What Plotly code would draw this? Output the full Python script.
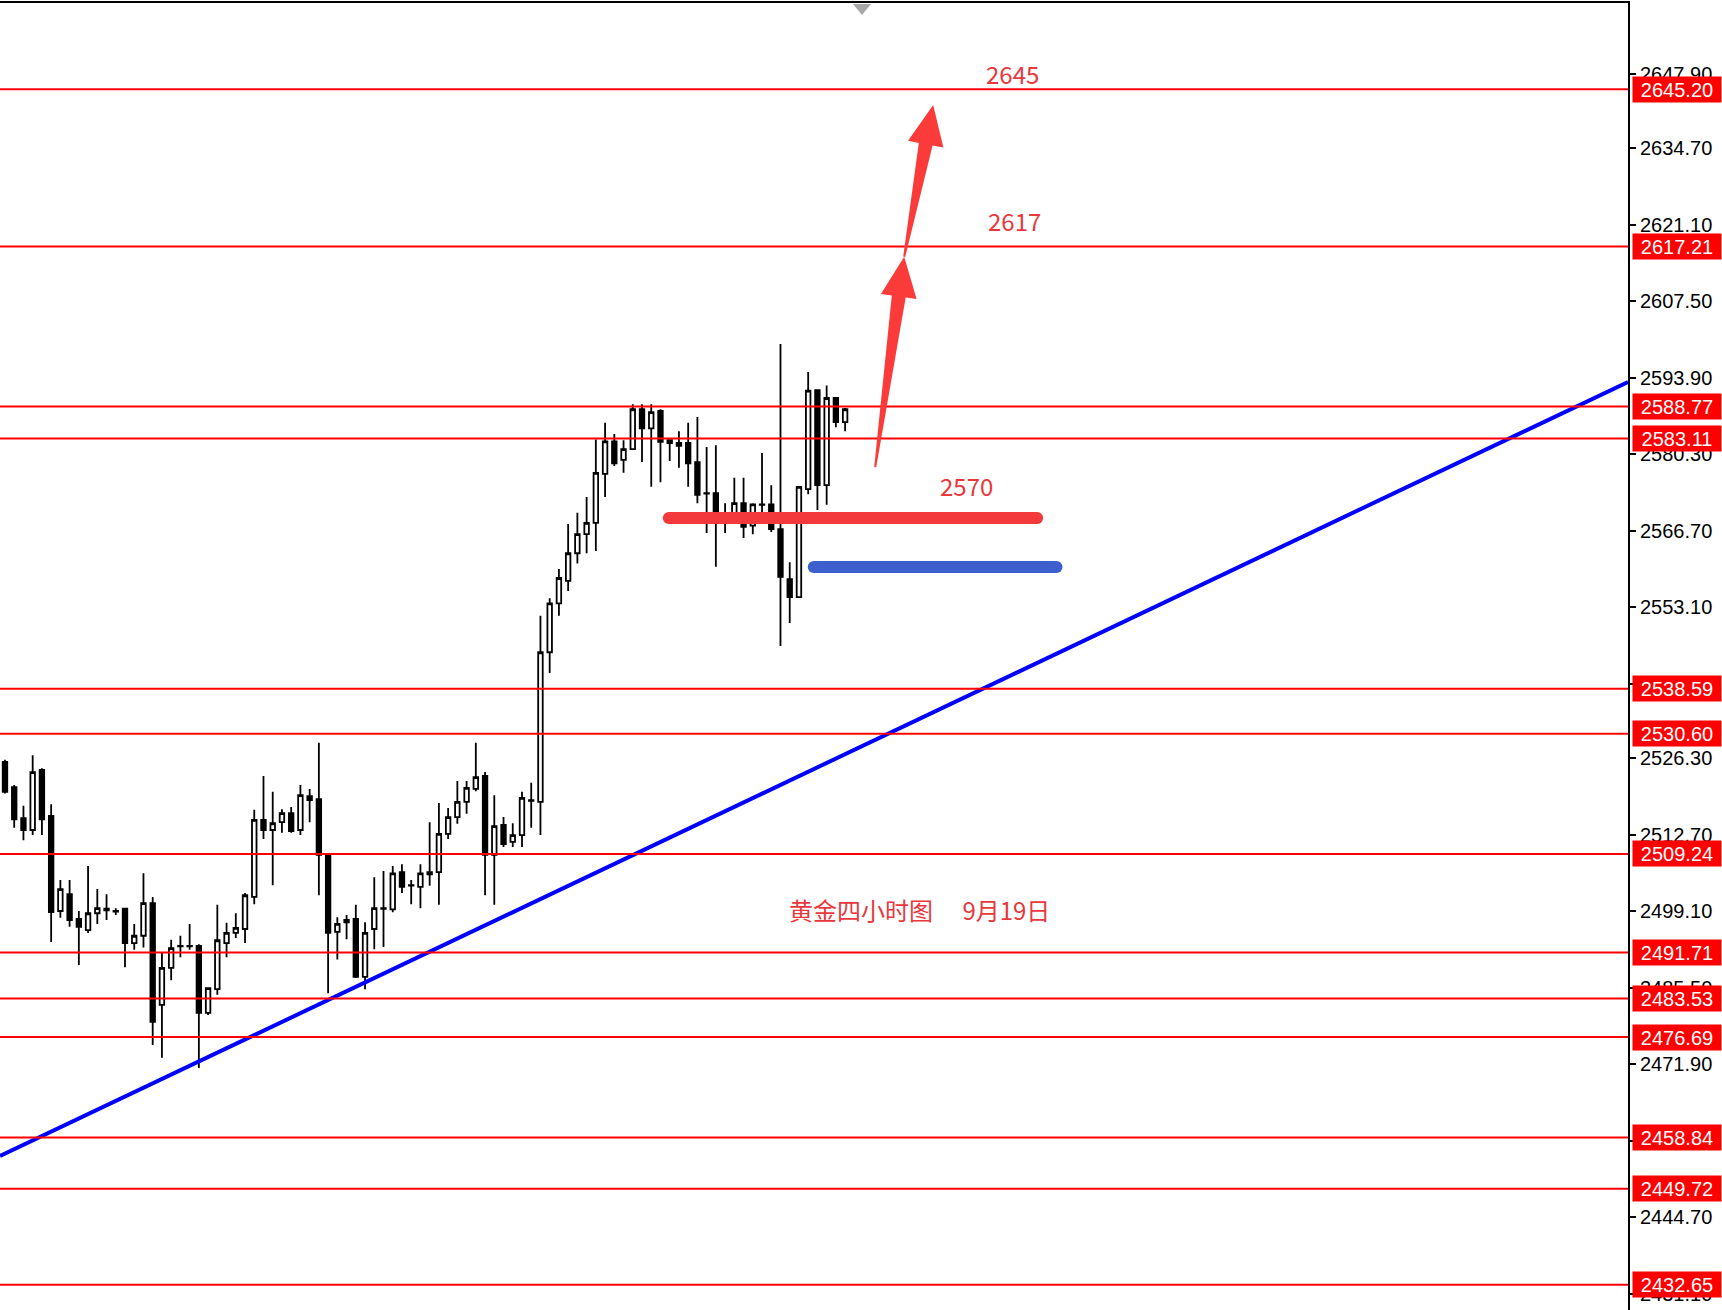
import math
import plotly.graph_objects as go

# ---------------- data ----------------
opens = [2525.6, 2521.1, 2515.6, 2513.5, 2524.2, 2516.0, 2499.1, 2502.1, 2497.7, 2495.7,
         2498.7, 2499.5, 2499.1, 2499.5, 2493.4, 2494.7, 2500.5, 2482.4, 2489.0, 2492.9,
         2492.9, 2492.9, 2481.0, 2485.2, 2493.4, 2495.2, 2495.9, 2501.6, 2515.3, 2513.5,
         2514.9, 2516.5, 2513.5, 2519.5, 2519.0, 2509.1, 2495.4, 2497.1, 2497.7, 2487.4,
         2495.9, 2499.6, 2499.4, 2506.0, 2503.7, 2503.4, 2506.0, 2506.0, 2512.8, 2515.8,
         2518.5, 2520.8, 2523.1, 2509.1, 2514.4, 2511.4, 2512.6, 2518.8, 2518.5, 2545.1,
         2553.8, 2557.8, 2562.7, 2566.1, 2568.1, 2576.8, 2582.6, 2579.3, 2581.2, 2588.3,
         2584.9, 2588.0, 2582.8, 2582.3, 2582.3, 2578.9, 2573.4, 2573.4, 2569.8, 2569.8,
         2571.6, 2567.6, 2571.4, 2571.4, 2567.0, 2558.1, 2554.9, 2574.1, 2591.7, 2574.8,
         2590.3, 2586.0]
highs = [2526.0, 2521.5, 2517.8, 2526.8, 2524.5, 2518.1, 2504.6, 2504.6, 2499.1, 2507.1,
         2503.0, 2502.1, 2499.6, 2499.6, 2496.8, 2505.8, 2501.6, 2491.8, 2494.0, 2494.7,
         2496.8, 2493.2, 2485.5, 2500.2, 2497.0, 2498.7, 2502.3, 2517.1, 2523.1, 2520.3,
         2517.2, 2517.6, 2521.5, 2520.8, 2529.0, 2509.1, 2498.0, 2498.4, 2500.2, 2497.1,
         2505.1, 2506.2, 2507.1, 2507.4, 2504.6, 2507.4, 2514.9, 2518.3, 2517.4, 2522.2,
         2522.2, 2529.0, 2523.8, 2519.7, 2515.8, 2514.7, 2520.3, 2521.9, 2551.6, 2554.7,
         2559.9, 2567.9, 2569.9, 2572.7, 2582.9, 2585.9, 2583.9, 2582.8, 2589.2, 2589.2,
         2589.2, 2588.3, 2582.8, 2584.4, 2585.9, 2586.9, 2581.6, 2581.9, 2571.6, 2576.1,
         2576.1, 2571.6, 2580.5, 2574.8, 2599.9, 2561.1, 2574.6, 2594.9, 2591.8, 2592.5,
         2590.3, 2588.5]
lows = [2520.0, 2513.9, 2511.7, 2512.6, 2512.6, 2493.6, 2497.9, 2496.3, 2489.5, 2495.2,
        2496.8, 2497.5, 2498.4, 2489.1, 2492.2, 2492.6, 2475.3, 2473.0, 2486.8, 2490.9,
        2492.2, 2471.2, 2480.6, 2484.2, 2490.9, 2494.3, 2493.4, 2500.3, 2511.9, 2503.7,
        2513.0, 2513.0, 2512.6, 2514.9, 2501.9, 2484.5, 2490.5, 2494.1, 2487.2, 2485.2,
        2492.3, 2492.7, 2498.9, 2502.3, 2500.3, 2499.6, 2503.6, 2500.2, 2511.9, 2514.6,
        2516.4, 2520.4, 2501.9, 2500.2, 2510.5, 2510.5, 2510.5, 2513.9, 2512.6, 2541.4,
        2551.6, 2556.0, 2560.9, 2562.7, 2563.1, 2572.7, 2578.2, 2577.0, 2581.1, 2578.9,
        2574.5, 2575.3, 2579.1, 2577.9, 2574.5, 2571.6, 2566.3, 2560.3, 2566.3, 2568.3,
        2565.4, 2566.1, 2569.1, 2566.5, 2546.2, 2550.3, 2554.8, 2573.2, 2570.4, 2571.3,
        2585.1, 2584.4]
closes = [2520.3, 2515.4, 2513.5, 2523.8, 2515.4, 2498.9, 2503.0, 2497.5, 2496.3, 2498.7,
          2499.6, 2499.2, 2499.0, 2493.4, 2494.7, 2500.5, 2479.4, 2489.0, 2492.5, 2492.8,
          2492.8, 2481.0, 2485.4, 2493.9, 2495.2, 2496.1, 2501.9, 2515.3, 2513.5, 2514.7,
          2516.5, 2513.3, 2519.7, 2518.8, 2509.1, 2495.2, 2496.8, 2497.5, 2487.4, 2495.2,
          2499.6, 2499.5, 2505.8, 2503.4, 2503.6, 2505.8, 2505.6, 2512.8, 2515.8, 2518.5,
          2521.0, 2522.9, 2509.1, 2514.2, 2511.0, 2512.6, 2519.2, 2518.7, 2545.1, 2553.8,
          2558.3, 2562.7, 2566.1, 2568.1, 2577.0, 2582.6, 2578.7, 2581.2, 2588.3, 2584.9,
          2587.8, 2582.5, 2582.3, 2581.8, 2578.7, 2573.1, 2573.3, 2569.9, 2569.3, 2571.6,
          2567.4, 2571.4, 2571.3, 2567.0, 2558.5, 2554.9, 2574.5, 2591.6, 2574.8, 2590.3,
          2586.0, 2588.3]
bar_index = list(range(len(opens)))

level_prices = [2645.20, 2617.21, 2588.77, 2583.11, 2538.59, 2530.60, 2509.24,
                2491.71, 2483.53, 2476.69, 2458.84, 2449.72, 2432.65]
level_labels = ["2645.20", "2617.21", "2588.77", "2583.11", "2538.59", "2530.60", "2509.24",
                "2491.71", "2483.53", "2476.69", "2458.84", "2449.72", "2432.65"]

tick_values = [2647.9, 2634.7, 2621.1, 2607.5, 2593.9, 2580.3, 2566.7, 2553.1, 2539.5,
               2526.3, 2512.7, 2499.1, 2485.5, 2471.9, 2458.3, 2444.7, 2431.1]
tick_labels = ["2647.90", "2634.70", "2621.10", "2607.50", "2593.90", "2580.30", "2566.70",
               "2553.10", "2539.50", "2526.30", "2512.70", "2499.10", "2485.50", "2471.90",
               "2458.30", "2444.70", "2431.10"]

trend_x = [-0.54, 175.8]
trend_y = [2455.55, 2593.15]

zone_red_x = [71.9, 111.8]
zone_red_y = [2568.97, 2568.97]
zone_blue_x = [87.6, 113.9]
zone_blue_y = [2560.26, 2560.26]

arrow_tails = [(94.26, 2578.0), (97.4, 2615.4)]
arrow_tips = [(97.4, 2615.4), (100.54, 2642.4)]

note_texts = ["2645", "2617", "2570", "黄金四小时图\u2003 9月19日"]
note_x = [109.1, 109.4, 104.2, 99.1]
note_y = [2647.9, 2621.8, 2574.8, 2499.3]

X_RANGE = [-0.54, 175.8]
Y_RANGE = [2428.17, 2660.52]

# ---------------- figure ----------------
W, H = 1722, 1310
ML, MR, MT, MB = 0, 94, 3, 0
plot_w = W - ML - MR
plot_h = H - MT - MB
sx = plot_w / (X_RANGE[1] - X_RANGE[0])
sy = plot_h / (Y_RANGE[1] - Y_RANGE[0])

fig = go.Figure()

fig.add_trace(go.Candlestick(
    x=bar_index, open=opens, high=highs, low=lows, close=closes,
    increasing=dict(fillcolor="white", line=dict(color="black", width=1.8)),
    decreasing=dict(fillcolor="black", line=dict(color="black", width=1.8)),
    whiskerwidth=0, showlegend=False, hoverinfo="skip",
))

fig.add_trace(go.Scatter(
    x=trend_x, y=trend_y, mode="lines",
    line=dict(color="#0000ff", width=4), showlegend=False, hoverinfo="skip",
))

for zx, zy, col in [(zone_red_x, zone_red_y, "#f4393d"), (zone_blue_x, zone_blue_y, "#3d5fce")]:
    fig.add_trace(go.Scatter(
        x=zx, y=zy, mode="lines+markers",
        line=dict(color=col, width=12),
        marker=dict(color=col, size=12, line=dict(width=0)),
        showlegend=False, hoverinfo="skip",
    ))

shapes = []
for p in level_prices:
    shapes.append(dict(type="line", xref="paper", x0=0, x1=1, yref="y", y0=p, y1=p,
                       line=dict(color="#ff0000", width=2), layer="above"))


def arrow_path(tail, tip, w0=2.0, w1=14.0, head_len=40.0, head_half=18.0):
    tx, ty = tail[0] * sx, tail[1] * sy
    px, py = tip[0] * sx, tip[1] * sy
    dx, dy = px - tx, py - ty
    L = math.hypot(dx, dy)
    ux, uy = dx / L, dy / L
    nx, ny = -uy, ux
    bx, by = px - ux * head_len, py - uy * head_len
    pts = [
        (tx + nx * w0 / 2, ty + ny * w0 / 2),
        (bx + nx * w1 / 2, by + ny * w1 / 2),
        (bx + nx * head_half, by + ny * head_half),
        (px, py),
        (bx - nx * head_half, by - ny * head_half),
        (bx - nx * w1 / 2, by - ny * w1 / 2),
        (tx - nx * w0 / 2, ty - ny * w0 / 2),
    ]
    d = "M " + " L ".join(f"{x / sx:.4f},{y / sy:.4f}" for x, y in pts) + " Z"
    return d


for t, p in zip(arrow_tails, arrow_tips):
    shapes.append(dict(type="path", xref="x", yref="y", path=arrow_path(t, p),
                       fillcolor="#fb3a3a", line=dict(width=0), layer="above"))

# small grey shift marker at the top
cx = 862 / plot_w
hw = 9 / plot_w
shapes.append(dict(type="path", xref="paper", yref="paper",
                   path=f"M {cx - hw},{1 - 1 / plot_h} L {cx + hw},{1 - 1 / plot_h} L {cx},{1 - 12 / plot_h} Z",
                   fillcolor="#a8a8a8", line=dict(width=0)))

annotations = []
for p, lab in zip(level_prices, level_labels):
    annotations.append(dict(
        xref="paper", x=1, xanchor="left", xshift=4,
        yref="y", y=p, yanchor="middle",
        text=lab, showarrow=False,
        font=dict(family="Liberation Sans", size=20, color="white"),
        bgcolor="#ff0000", width=85, height=22, borderpad=1.5, align="center",
    ))

for t, x, y in zip(note_texts, note_x, note_y):
    annotations.append(dict(
        xref="x", x=x, yref="y", y=y, text=t, showarrow=False,
        xanchor="center", yanchor="middle",
        font=dict(family="Noto Sans CJK SC", size=24, color="#e8383d"),
    ))

fig.update_layout(
    width=W, height=H,
    margin=dict(l=ML, r=MR, t=MT, b=MB, pad=0, autoexpand=False),
    paper_bgcolor="white", plot_bgcolor="white",
    shapes=shapes, annotations=annotations,
    showlegend=False,
    xaxis=dict(range=X_RANGE, showgrid=False, zeroline=False, showticklabels=False,
               ticks="", side="top", showline=True, linecolor="black", linewidth=2,
               rangeslider=dict(visible=False), fixedrange=True),
    yaxis=dict(range=Y_RANGE, side="right", showgrid=False, zeroline=False,
               tickmode="array", tickvals=tick_values, ticktext=tick_labels,
               ticks="outside", ticklen=6, tickwidth=1.5, tickcolor="black",
               tickfont=dict(family="Liberation Sans", size=20, color="black"),
               showline=True, linecolor="black", linewidth=2, fixedrange=True),
)

fig.write_html(
    "out.html",
    config={"displayModeBar": False},
    post_script="document.body.style.margin='0';document.body.style.padding='0';document.body.style.overflow='hidden';",
)
